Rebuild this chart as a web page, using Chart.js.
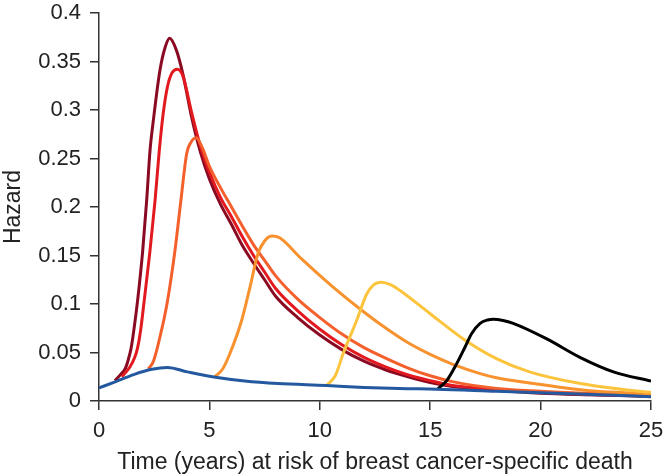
<!DOCTYPE html>
<html>
<head>
<meta charset="utf-8">
<script src="https://cdn.jsdelivr.net/npm/chart.js@4.4.0/dist/chart.umd.min.js"></script>
<style>
  html, body { margin: 0; padding: 0; background: #fff; }
  #wrap { width: 664px; height: 476px; position: relative; }
</style>
</head>
<body>
<div id="wrap"><canvas id="hazardChart"></canvas></div>
<script>
// Time (years) / hazard pairs
const blueT = [0, 0.7, 1.6, 2.4, 3.1, 4.0, 5.2, 6.6, 8.1, 10.3, 12, 13.6, 15.3, 18, 20, 22, 25];
const blueH = [0.0135, 0.0195, 0.0275, 0.0327, 0.0345, 0.030, 0.0247, 0.0206, 0.018, 0.016, 0.014, 0.0128, 0.0122, 0.010, 0.0085, 0.007, 0.0045];

const darkT = [0.72, 1.0, 1.2, 1.32, 1.45, 1.56, 1.75, 1.98, 2.16, 2.31, 2.46, 2.76, 3.0, 3.2, 3.5, 3.8, 4.2, 4.6, 5.0, 5.5, 6, 6.5, 7, 7.5, 8, 9, 10, 11, 12, 13, 14, 15, 16, 18, 20, 22, 25];
const darkH = [0.021, 0.028, 0.034, 0.042, 0.054, 0.07, 0.104, 0.155, 0.207, 0.258, 0.289, 0.341, 0.365, 0.374, 0.362, 0.337, 0.292, 0.256, 0.229, 0.203, 0.182, 0.16, 0.142, 0.125, 0.108, 0.086, 0.068, 0.053, 0.041, 0.032, 0.025, 0.019, 0.015, 0.011, 0.008, 0.0065, 0.005];

const redT = [1.03, 1.4, 1.6, 1.74, 1.88, 2.05, 2.31, 2.54, 2.73, 2.9, 3.1, 3.3, 3.55, 3.8, 4.2, 4.6, 5.0, 5.5, 6, 6.5, 7, 7.5, 8, 9, 10, 11, 12, 13, 14, 15, 16, 18, 20, 22, 25];
const redH = [0.025, 0.035, 0.044, 0.054, 0.072, 0.104, 0.155, 0.207, 0.258, 0.295, 0.324, 0.338, 0.342, 0.335, 0.297, 0.262, 0.236, 0.21, 0.19, 0.169, 0.15, 0.133, 0.116, 0.093, 0.074, 0.058, 0.045, 0.035, 0.027, 0.021, 0.016, 0.012, 0.009, 0.007, 0.005];

const orRedT = [2.23, 2.45, 2.61, 2.78, 2.95, 3.11, 3.44, 3.71, 3.97, 4.12, 4.4, 4.7, 5.0, 5.5, 6, 6.5, 7, 7.5, 8, 9, 10, 11, 12, 13, 14, 15, 16, 18, 20, 22, 25];
const orRedH = [0.033, 0.04, 0.052, 0.068, 0.085, 0.104, 0.155, 0.207, 0.255, 0.265, 0.2715, 0.26, 0.242, 0.22, 0.2, 0.18, 0.161, 0.145, 0.129, 0.105, 0.086, 0.069, 0.055, 0.044, 0.034, 0.026, 0.02, 0.013, 0.01, 0.008, 0.006];

const orangeT = [5.25, 5.6, 5.93, 6.46, 6.84, 7.2, 7.5, 7.85, 8.2, 9.1, 10.6, 12.1, 13, 14, 15, 16, 17.3, 18, 19.5, 22, 25];
const orangeH = [0.025, 0.033, 0.049, 0.083, 0.1175, 0.152, 0.165, 0.17, 0.168, 0.148, 0.1175, 0.09, 0.075, 0.06, 0.048, 0.038, 0.028, 0.024, 0.0186, 0.011, 0.007];

const yellowT = [10.3, 10.7, 11.06, 11.67, 12.12, 12.45, 12.8, 13.2, 13.63, 15, 16.5, 18, 19.5, 21.8, 24.8, 25];
const yellowH = [0.016, 0.026, 0.049, 0.083, 0.11, 0.12, 0.1225, 0.12, 0.114, 0.09, 0.064, 0.0437, 0.03, 0.018, 0.0093, 0.009];

const blackT = [15.35, 15.75, 16.2, 16.58, 16.88, 17.26, 17.6, 17.86, 18.3, 18.76, 20.28, 21.78, 23.3, 25];
const blackH = [0.0128, 0.021, 0.0385, 0.0557, 0.0695, 0.08, 0.0835, 0.0842, 0.083, 0.08, 0.064, 0.045, 0.03, 0.0205];

const xTicks = [0, 5, 10, 15, 20, 25];
const yTicks = [0, 0.05, 0.1, 0.15, 0.2, 0.25, 0.3, 0.35, 0.4];

const FONT = "'Liberation Sans', Arial, Helvetica, sans-serif";
const INK = "#222";

function pts(ts, hs) {
	return ts.map((t, i) => ({ x: t, y: hs[i] }));
}

function curve(ts, hs, color) {
	return {
		data: pts(ts, hs),
		borderColor: color,
		borderWidth: 3,
		pointRadius: 0,
		fill: false,
		cubicInterpolationMode: "monotone",
	};
}

// first dataset is painted last (on top)
const datasets = [
	curve(blueT, blueH, "#24589f"),
	curve(blackT, blackH, "#000000"),
	curve(yellowT, yellowH, "#fcc43c"),
	curve(orangeT, orangeH, "#f7922f"),
	curve(orRedT, orRedH, "#f4602c"),
	curve(redT, redH, "#e2191f"),
	curve(darkT, darkH, "#8a0a22"),
];

const ctx = document.getElementById("hazardChart").getContext("2d");
new Chart(ctx, {
	type: "line",
	data: { datasets: datasets },
	options: {
		responsive: true,
		maintainAspectRatio: false,
		animation: false,
		layout: { padding: { top: 13, right: 13, left: 0, bottom: 0 } },
		plugins: { legend: { display: false }, tooltip: { enabled: false } },
		scales: {
			x: {
				type: "linear",
				min: 0,
				max: 25,
				afterBuildTicks: (s) => { s.ticks = xTicks.map((v) => ({ value: v })); },
				afterFit: (s) => {
					s.height = 75;
					s.paddingLeft = 0;
					s.paddingRight = 0;
				},
				grid: { drawOnChartArea: false, drawTicks: true, tickLength: 9, color: "#333", lineWidth: 1.5 },
				border: { display: true, color: "#333", width: 1.5 },
				ticks: { color: INK, font: { family: FONT, size: 22 }, padding: 8, maxRotation: 0 },
				title: {
					display: true,
					text: "Time (years) at risk of breast cancer-specific death",
					color: INK,
					font: { family: FONT, size: 23 },
					padding: { top: 0, bottom: 0 },
				},
			},
			y: {
				type: "linear",
				min: 0,
				max: 0.4,
				afterBuildTicks: (s) => { s.ticks = yTicks.map((v) => ({ value: v })); },
				afterFit: (s) => {
					s.width = 99;
					s.paddingTop = 0;
					s.paddingBottom = 0;
				},
				grid: { drawOnChartArea: false, drawTicks: true, tickLength: 9, color: "#333", lineWidth: 1.5 },
				border: { display: true, color: "#333", width: 1.5 },
				ticks: {
					color: INK,
					font: { family: FONT, size: 22 },
					padding: 9,
					callback: (v) => String(+Number(v).toFixed(2)),
				},
				title: {
					display: true,
					text: "Hazard",
					color: INK,
					font: { family: FONT, size: 23 },
					padding: { top: 0, bottom: 0 },
				},
			},
		},
	},
});
</script>
</body>
</html>
